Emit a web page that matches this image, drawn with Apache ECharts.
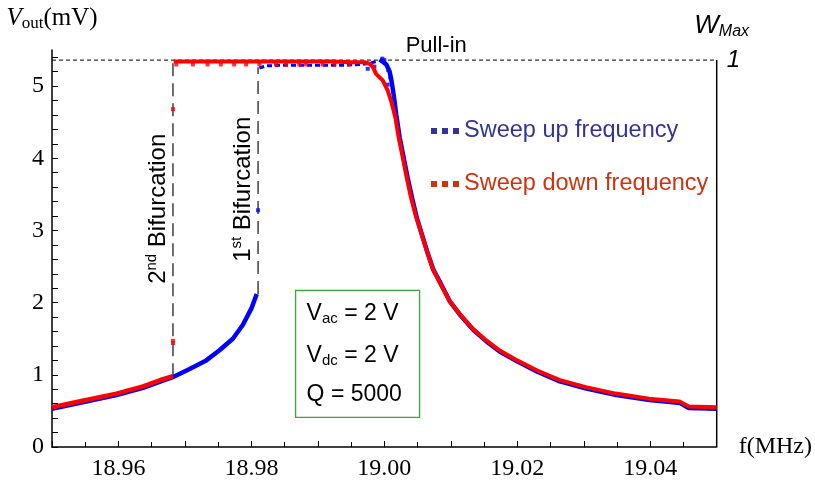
<!DOCTYPE html>
<html><head><meta charset="utf-8">
<script src="https://cdn.jsdelivr.net/npm/echarts@6/dist/echarts.min.js"></script>
<style>html,body{margin:0;padding:0;background:#fff}#c{width:815px;height:484px}</style>
</head><body><div id="c"></div>
<script>
// ---- axis extents / reference levels ----
const X_MIN = 18.95, X_MAX = 19.05, Y_MAX = 5.5;
const PULL_IN = 5.36;          // W_max = 1 level (mV)
const BIF1 = 18.981, BIF1_LOW = 2.12, BIF1_HIGH = 5.26;
const BIF2 = 18.9682, BIF2_LOW = 0.98;

// ---- sweep up (blue) ----
const upLowF = [18.9500, 18.9546, 18.9597, 18.9637, 18.9667, 18.9680, 18.9707, 18.9732, 18.9752, 18.9772, 18.9787, 18.9800, 18.9808];
const upLowV = [0.53, 0.62, 0.72, 0.82, 0.92, 0.96, 1.08, 1.20, 1.34, 1.50, 1.69, 1.92, 2.12];
const upPlatF = [18.9812, 18.9822, 18.9850, 18.9900, 18.9940, 18.9965, 18.9980, 18.9990];
const upPlatV = [5.25, 5.28, 5.29, 5.29, 5.29, 5.30, 5.32, 5.35];
const upFallF = [18.9993, 19.0003, 19.0008, 19.0011, 19.0014, 19.0018, 19.0023, 19.0029, 19.0035, 19.0042, 19.0049, 19.0057, 19.0064, 19.0074, 19.0084, 19.0099, 19.0114, 19.0134, 19.0154, 19.0174, 19.0199, 19.0231, 19.0264, 19.0304, 19.0349, 19.0399, 19.0445, 19.0458, 19.0500];
const upFallV = [5.37, 5.30, 5.20, 5.06, 4.88, 4.60, 4.29, 4.01, 3.73, 3.44, 3.17, 2.93, 2.72, 2.45, 2.28, 2.01, 1.83, 1.62, 1.46, 1.32, 1.19, 1.04, 0.91, 0.81, 0.72, 0.65, 0.61, 0.54, 0.53];
const upStrayF = [18.9810, 18.9997, 19.0000, 19.0006, 19.0009, 19.0005, 19.0012, 18.9985, 18.9975, 18.9960];
const upStrayV = [3.28, 5.38, 5.36, 5.22, 5.12, 5.02, 4.80, 5.27, 5.24, 5.31];

// ---- sweep down (red) ----
const downLowF = [18.9500, 18.9546, 18.9597, 18.9637, 18.9667, 18.9682];
const downLowV = [0.55, 0.64, 0.74, 0.84, 0.94, 0.98];
const downUpF = [18.9683, 18.9720, 18.9760, 18.9800, 18.9840, 18.9880, 18.9920, 18.9950, 18.9970, 18.9978, 18.9983, 18.99875, 18.99975, 19.0005, 19.0010, 19.00165, 19.00215, 19.00275, 19.00335, 19.0040, 19.00477, 19.00526, 19.00627, 19.00726, 19.00827, 19.00977, 19.01128, 19.01328, 19.01529, 19.01729, 19.0198, 19.0230, 19.0263, 19.0303, 19.0348, 19.0398, 19.0444, 19.0458, 19.0500];
const downUpV = [5.34, 5.34, 5.34, 5.34, 5.34, 5.34, 5.34, 5.33, 5.33, 5.31, 5.26, 5.17, 5.08, 4.94, 4.80, 4.57, 4.29, 4.02, 3.74, 3.46, 3.19, 3.05, 2.75, 2.47, 2.29, 2.03, 1.85, 1.64, 1.48, 1.34, 1.21, 1.06, 0.93, 0.83, 0.74, 0.67, 0.63, 0.56, 0.55];
const downDotF = [18.9687, 18.9712, 18.9734, 18.9754, 18.9774, 18.9792, 18.9812, 18.9837, 18.9852, 18.9872, 18.9882, 18.9907, 18.9925, 18.9947, 18.9682, 18.9682, 18.9682];
const downDotV = [5.30, 5.30, 5.30, 5.30, 5.30, 5.30, 5.30, 5.30, 5.30, 5.30, 5.30, 5.30, 5.30, 5.30, 4.68, 1.47, 1.44];

const UP_NAME = 'Sweep up frequency', DOWN_NAME = 'Sweep down frequency';
const SANS = 'Liberation Sans, Arial, sans-serif';
const SERIF = 'Liberation Serif, Times New Roman, serif';
const BLUE = '#0000ff', RED = '#ff0000';

const zip = (a, b) => a.map((x, i) => [x, b[i]]);

const chart = echarts.init(document.getElementById('c'), null, {renderer: 'canvas'});

const lineS = (name, data, color, width, type, z) => ({
  name, type: 'line', data, symbol: 'none', showSymbol: false, silent: true, z: z || 2,
  lineStyle: {color, width, type: type || 'solid'}, itemStyle: {color}, animation: false
});
const dotS = (name, data, color, z) => ({
  name, type: 'scatter', data, symbol: 'rect', symbolSize: 4, silent: true, z: z || 3,
  itemStyle: {color}, animation: false
});

const option = {
  animation: false,
  backgroundColor: '#fff',
  grid: {left: 52, right: 97, top: 50, bottom: 37, containLabel: false},
  legend: {
    orient: 'vertical', left: 426, top: 114, itemGap: 29,
    itemWidth: 28, itemHeight: 6, selectedMode: false,
    icon: 'path://M0,0h6v6h-6zM11,0h6v6h-6zM22,0h6v6h-6z',
    textStyle: {fontFamily: SANS, fontSize: 23.5},
    data: [
      {name: UP_NAME, itemStyle: {color: '#333399'}, textStyle: {color: '#333399'}},
      {name: DOWN_NAME, itemStyle: {color: '#cc3311'}, textStyle: {color: '#cc3311'}}
    ]
  },
  xAxis: {
    type: 'value', min: X_MIN, max: X_MAX, interval: 0.01,
    axisLine: {onZero: false, lineStyle: {color: '#000', width: 1.5}},
    axisTick: {inside: true, length: 6, lineStyle: {color: '#000', width: 1}},
    minorTick: {show: true, splitNumber: 2, length: 5, lineStyle: {color: '#000', width: 1}},
    splitLine: {show: false}, minorSplitLine: {show: false},
    axisLabel: {
      formatter: v => (Math.round(v * 1000) % 20 === 0 ? v.toFixed(2) : ''),
      fontFamily: SERIF, fontSize: 24, color: '#000', margin: 10
    },
    name: 'f(MHz)', nameLocation: 'end', nameGap: 22,
    nameTextStyle: {fontFamily: SERIF, fontSize: 24, color: '#000', align: 'left', verticalAlign: 'middle'}
  },
  yAxis: [{
    type: 'value', min: 0, max: Y_MAX, interval: 0.2,
    axisLine: {show: true, onZero: false, lineStyle: {color: '#000', width: 1.5}},
    axisTick: {inside: true, length: 6, lineStyle: {color: '#000', width: 1}},
    splitLine: {show: false},
    axisLabel: {
      formatter: v => (Math.abs(v - Math.round(v)) < 1e-6 && v <= 5 ? String(Math.round(v)) : ''),
      fontFamily: SERIF, fontSize: 24, color: '#000', margin: 8, showMaxLabel: false
    },
    name: '{i|V}{s|out}{n|(mV)}', nameLocation: 'end', nameGap: 18,
    nameTextStyle: {
      align: 'center', verticalAlign: 'bottom',
      rich: {
        i: {fontFamily: SERIF, fontStyle: 'italic', fontSize: 25, color: '#000', lineHeight: 28},
        s: {fontFamily: SERIF, fontSize: 17, color: '#000', lineHeight: 12, verticalAlign: 'bottom'},
        n: {fontFamily: SERIF, fontSize: 25, color: '#000', lineHeight: 28}
      }
    }
  }, {
    type: 'value', position: 'right', min: 0, max: Y_MAX / PULL_IN, interval: 1,
    axisLine: {show: false}, axisTick: {show: false}, splitLine: {show: false},
    axisLabel: {
      formatter: v => (Math.abs(v - 1) < 1e-9 ? '1' : ''),
      fontFamily: SANS, fontStyle: 'italic', fontSize: 24, color: '#000', margin: 10
    },
    name: '{w|W}{m|Max}', nameLocation: 'end', nameGap: 10,
    nameTextStyle: {
      align: 'center', verticalAlign: 'bottom', padding: [0, 0, 0, 10],
      rich: {
        w: {fontFamily: SANS, fontStyle: 'italic', fontSize: 26, color: '#000', lineHeight: 28},
        m: {fontFamily: SANS, fontStyle: 'italic', fontSize: 16, color: '#000', lineHeight: 12, verticalAlign: 'bottom'}
      }
    }
  }],
  series: [
    lineS('pull-in', [[X_MIN, PULL_IN], [X_MAX, PULL_IN]], '#000', 1, [4, 3], 1),
    lineS('right-frame', [[X_MAX, 0], [X_MAX, PULL_IN]], '#000', 1.5, 'solid', 1),
    lineS('bif2', [[BIF2, BIF2_LOW], [BIF2, PULL_IN]], '#222', 1.3, [13, 7], 1),
    lineS('bif1', [[BIF1, BIF1_LOW], [BIF1, BIF1_HIGH]], '#222', 1.3, [13, 7], 1),
    lineS(UP_NAME, zip(upLowF, upLowV), BLUE, 4.5, 'solid', 2),
    lineS('up-plateau', zip(upPlatF, upPlatV), BLUE, 3, [5, 3], 2),
    lineS('up-fall', zip(upFallF, upFallV), BLUE, 4.5, 'solid', 2),
    dotS('up-stray', zip(upStrayF, upStrayV), BLUE, 3),
    lineS('down-low', zip(downLowF, downLowV), RED, 4.5, 'solid', 4),
    lineS(DOWN_NAME, zip(downUpF, downUpV), RED, 4, 'solid', 4),
    dotS('down-dots', zip(downDotF, downDotV), RED, 5)
  ]
};
chart.setOption(option);

// ---- annotations anchored to data coordinates ----
const px = (f, v) => chart.convertToPixel({seriesIndex: 0}, [f, v]);
const pPull = px(19.0078, 5.55);
const pB2 = px(BIF2, 3.30);
const pB1 = px(BIF1, 3.57);
const boxA = px(18.98665, 2.17), boxB = px(19.0053, 0.41);
const g1 = px(18.98665, 1.85), g2 = px(18.98665, 1.27), g3 = px(18.98665, 0.72);
const GREEN = '#1e9a1e';
const subRich = {
  v: {fontFamily: SANS, fontSize: 23, color: GREEN, lineHeight: 26},
  s: {fontFamily: SANS, fontSize: 15, color: GREEN, lineHeight: 12, verticalAlign: 'bottom'}
};
const supRich = {
  a: {fontFamily: SANS, fontSize: 24, color: '#000', lineHeight: 28},
  s: {fontFamily: SANS, fontSize: 15, color: '#000', lineHeight: 12, verticalAlign: 'top'}
};
chart.setOption({
  graphic: [
    {type: 'text', x: pPull[0], y: pPull[1], silent: true,
     style: {text: 'Pull-in', fontFamily: SANS, fontSize: 22, fill: '#000', align: 'center', verticalAlign: 'middle'}},
    {type: 'text', x: pB2[0] - 15, y: pB2[1], rotation: Math.PI / 2, silent: true,
     style: {text: '{a|2}{s|nd}{a| Bifurcation}', rich: supRich, align: 'center', verticalAlign: 'middle'}},
    {type: 'text', x: pB1[0] - 15, y: pB1[1], rotation: Math.PI / 2, silent: true,
     style: {text: '{a|1}{s|st}{a| Bifurcation}', rich: supRich, align: 'center', verticalAlign: 'middle'}},
    {type: 'rect', silent: true,
     shape: {x: boxA[0], y: boxA[1], width: boxB[0] - boxA[0], height: boxB[1] - boxA[1]},
     style: {fill: '#fff', stroke: '#33aa33', lineWidth: 1.3}},
    {type: 'text', x: g1[0] + 11, y: g1[1], silent: true,
     style: {text: '{v|V}{s|ac}{v| = 2 V}', rich: subRich, align: 'left', verticalAlign: 'middle'}},
    {type: 'text', x: g2[0] + 11, y: g2[1], silent: true,
     style: {text: '{v|V}{s|dc}{v| = 2 V}', rich: subRich, align: 'left', verticalAlign: 'middle'}},
    {type: 'text', x: g3[0] + 11, y: g3[1], silent: true,
     style: {text: '{v|Q = 5000}', rich: subRich, align: 'left', verticalAlign: 'middle'}}
  ]
});
</script>
</body></html>
